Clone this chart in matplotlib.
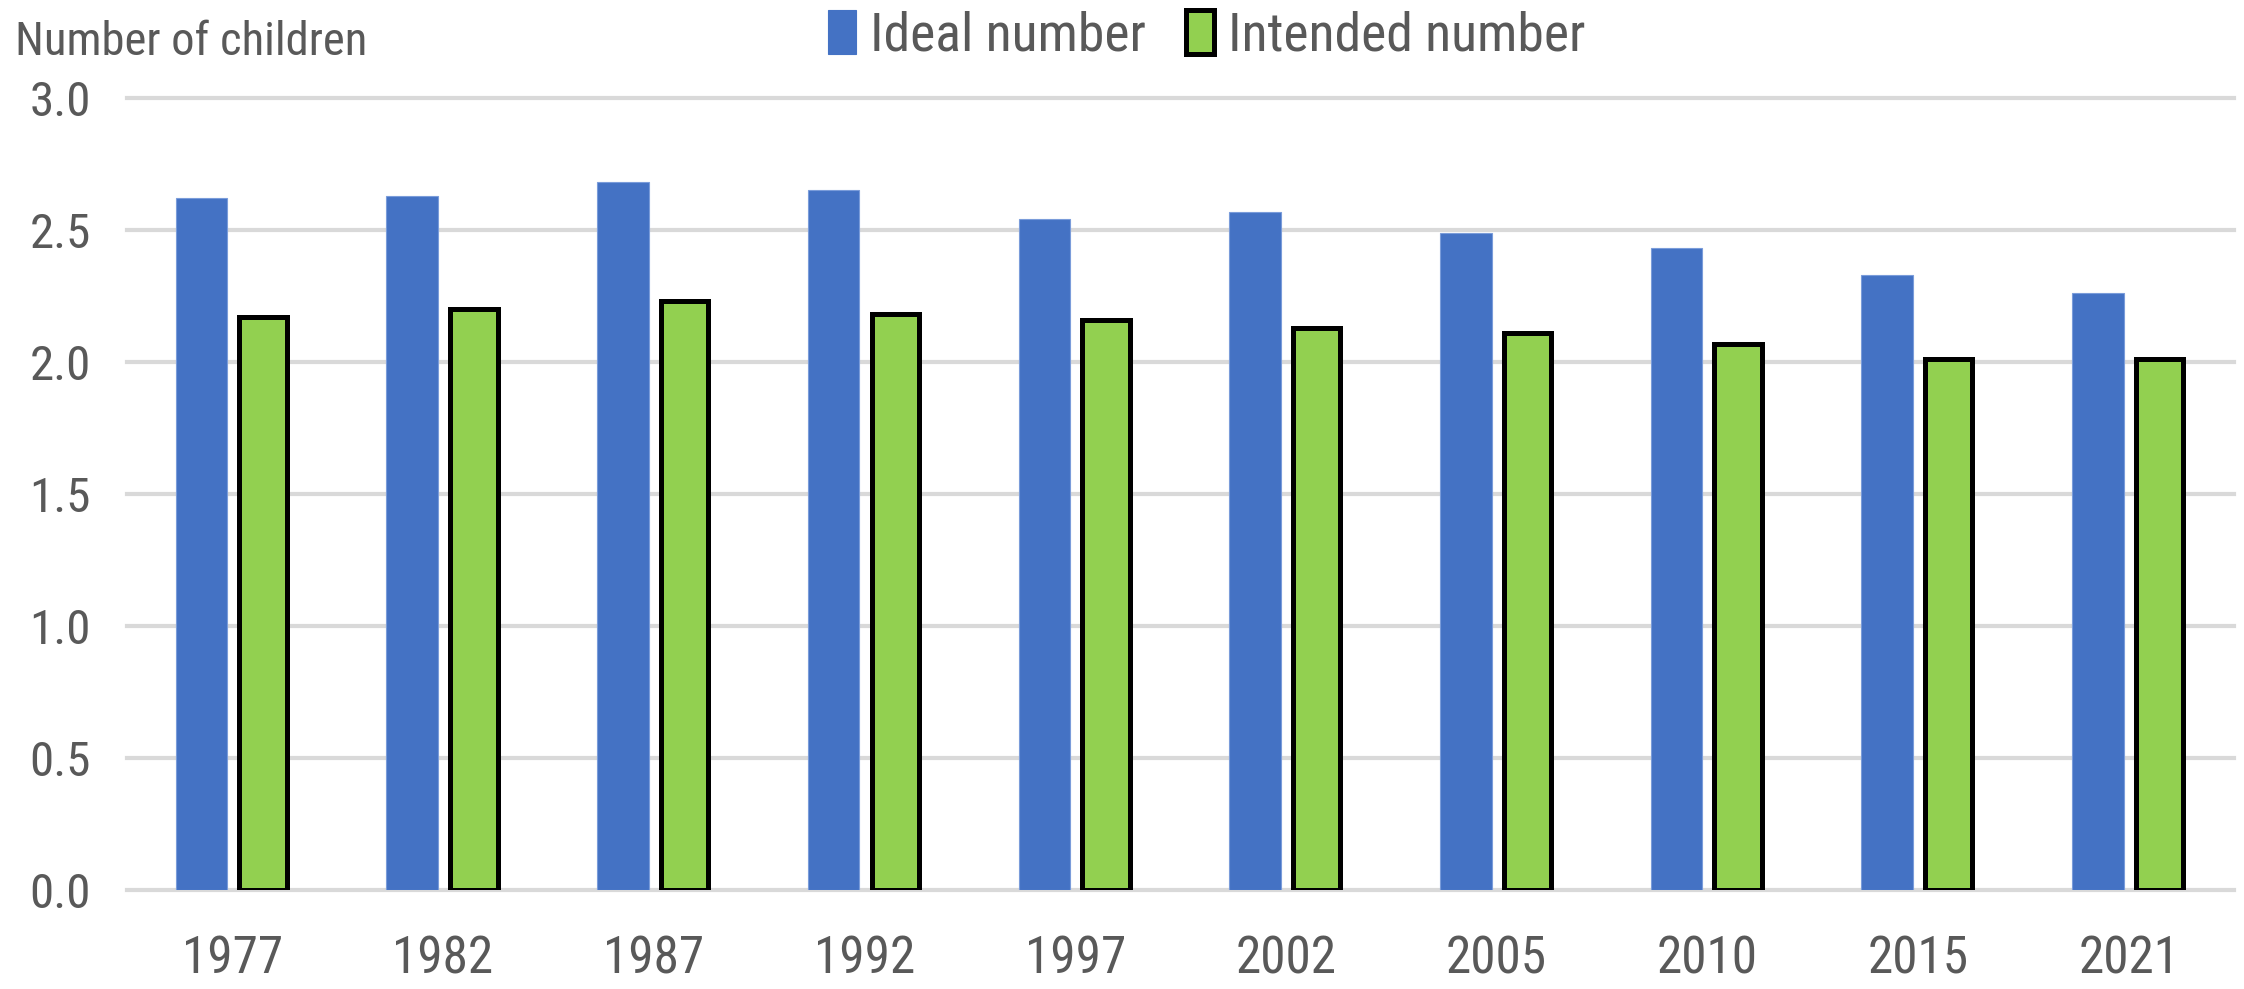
import re
import numpy as np
import matplotlib
matplotlib.use("Agg")
import matplotlib.pyplot as plt
from matplotlib import font_manager
from matplotlib.font_manager import FontProperties
from matplotlib.ft2font import FT2Font
from matplotlib.patches import Patch

# Survey years and average number of children
years = ["1977", "1982", "1987", "1992", "1997", "2002", "2005", "2010", "2015", "2021"]
ideal = [2.62, 2.63, 2.68, 2.65, 2.54, 2.57, 2.49, 2.43, 2.33, 2.26]
intended = [2.17, 2.20, 2.23, 2.18, 2.16, 2.13, 2.11, 2.07, 2.01, 2.01]
y_ticks = [0.0, 0.5, 1.0, 1.5, 2.0, 2.5, 3.0]
series_names = ["Ideal number", "Intended number"]
y_title = "Number of children"

SAMPLE = "Number of children"
FAMILY_OK = re.compile(
    r"^(Liberation Sans( Narrow)?|Arial( Narrow)?|Arimo|Roboto( Condensed)?|"
    r"Noto Sans( (Extra|Semi)?Condensed)?|Open Sans( (Semi)?Condensed)?|"
    r"DejaVu Sans( Condensed)?|Lato|Inter)$")
STYLE_BAD = re.compile(r"(Italic|Oblique|Bold|Light|Thin|Black|Medium|Heavy|Mono)", re.I)


def measure(path):
    """Width of the sample string over the cap height, and cap height per em."""
    f = FT2Font(path)
    f.set_size(100, 72)
    f.set_text(SAMPLE, 0.0)
    w, _ = f.get_width_height()
    f.set_text("N", 0.0)
    _, h = f.get_width_height()
    return w / h, (h / 64.0) / 100.0


def pick_font():
    """Narrowest regular-weight sans face among the common families."""
    best = None
    for entry in font_manager.fontManager.ttflist:
        fn = entry.fname
        base = fn.replace("\\", "/").split("/")[-1]
        if not base.lower().endswith((".ttf", ".otf")):
            continue
        if not FAMILY_OK.match(entry.name):
            continue
        if STYLE_BAD.search(base) or entry.style != "normal":
            continue
        if entry.weight not in (400, "normal", "regular", "book"):
            continue
        try:
            ratio, cap = measure(fn)
        except Exception:
            continue
        if best is None or ratio < best[0]:
            best = (ratio, cap, fn)
    return best


choice = pick_font()
if choice is not None:
    ratio, cap, path = choice
    fp = FontProperties(fname=path)
else:
    fp = FontProperties(family="Liberation Sans")
    ratio, cap = 11.5, 0.716

# Compromise between glyph height and line width for the tall, narrow labels
TARGET_RATIO = 7.3
k = min(1.0, (TARGET_RATIO / ratio) ** 0.5)


def size_for(cap_px):
    return cap_px / cap * 0.72 * k


sz_title = size_for(40)
sz_tick = size_for(42)
sz_xtick = size_for(44)
sz_leg = size_for(46)

TEXT = "#595959"
BLUE = "#4472C4"
GREEN = "#92D050"
GRID = "#D9D9D9"

W, H, DPI = 2244, 989, 100
fig = plt.figure(figsize=(W / DPI, H / DPI), dpi=DPI)
ax = fig.add_axes([127 / W, 1 - 890 / H, (2234 - 127) / W, (890 - 98) / H])

x = np.arange(len(years))
bw = 0.245
off = 0.146
ax.bar(x - off, ideal, width=bw, color=BLUE, edgecolor="#7A9CDA",
       linewidth=0.8, zorder=3)
ax.bar(x + off, intended, width=bw - 0.02, color=GREEN, edgecolor="black",
       linewidth=3.6, zorder=3)

ax.set_xlim(-0.5, len(years) - 0.5)
ax.set_ylim(0, 3.0)
ax.set_yticks(y_ticks)
ax.set_yticklabels([f"{v:.1f}" for v in y_ticks])
ax.set_xticks(x)
ax.set_xticklabels(years)

ax.grid(axis="y", color=GRID, linewidth=3.0, zorder=0)
for gl in ax.get_ygridlines():
    gl.set_clip_on(False)
ax.set_axisbelow(True)
for s in ax.spines.values():
    s.set_visible(False)
ax.tick_params(axis="both", length=0, colors=TEXT)
ax.tick_params(axis="y", pad=26)
ax.tick_params(axis="x", pad=60)
for lab in ax.get_yticklabels():
    lab.set_fontproperties(fp)
    lab.set_fontsize(sz_tick)
for lab in ax.get_xticklabels():
    lab.set_fontproperties(fp)
    lab.set_fontsize(sz_xtick)
    lab.set_verticalalignment("baseline")

fig.text(15 / W, 1 - 55 / H, y_title, ha="left", va="baseline",
         fontproperties=fp, fontsize=sz_title, color=TEXT)

em_leg = sz_leg / 0.72
handles = [Patch(facecolor=BLUE, edgecolor=BLUE, linewidth=0.8),
           Patch(facecolor=GREEN, edgecolor="black", linewidth=3.6)]
leg_fp = fp.copy()
leg_fp.set_size(sz_leg)
leg = fig.legend(handles, series_names, loc="center",
                 bbox_to_anchor=(1207 / W, 1 - 36 / H), ncol=2, frameon=False,
                 prop=leg_fp, handlelength=28 / em_leg, handleheight=46 / em_leg,
                 handletextpad=14 / em_leg, columnspacing=40 / em_leg, borderpad=0)
for t in leg.get_texts():
    t.set_color(TEXT)

fig.savefig("out.png", dpi=DPI)
